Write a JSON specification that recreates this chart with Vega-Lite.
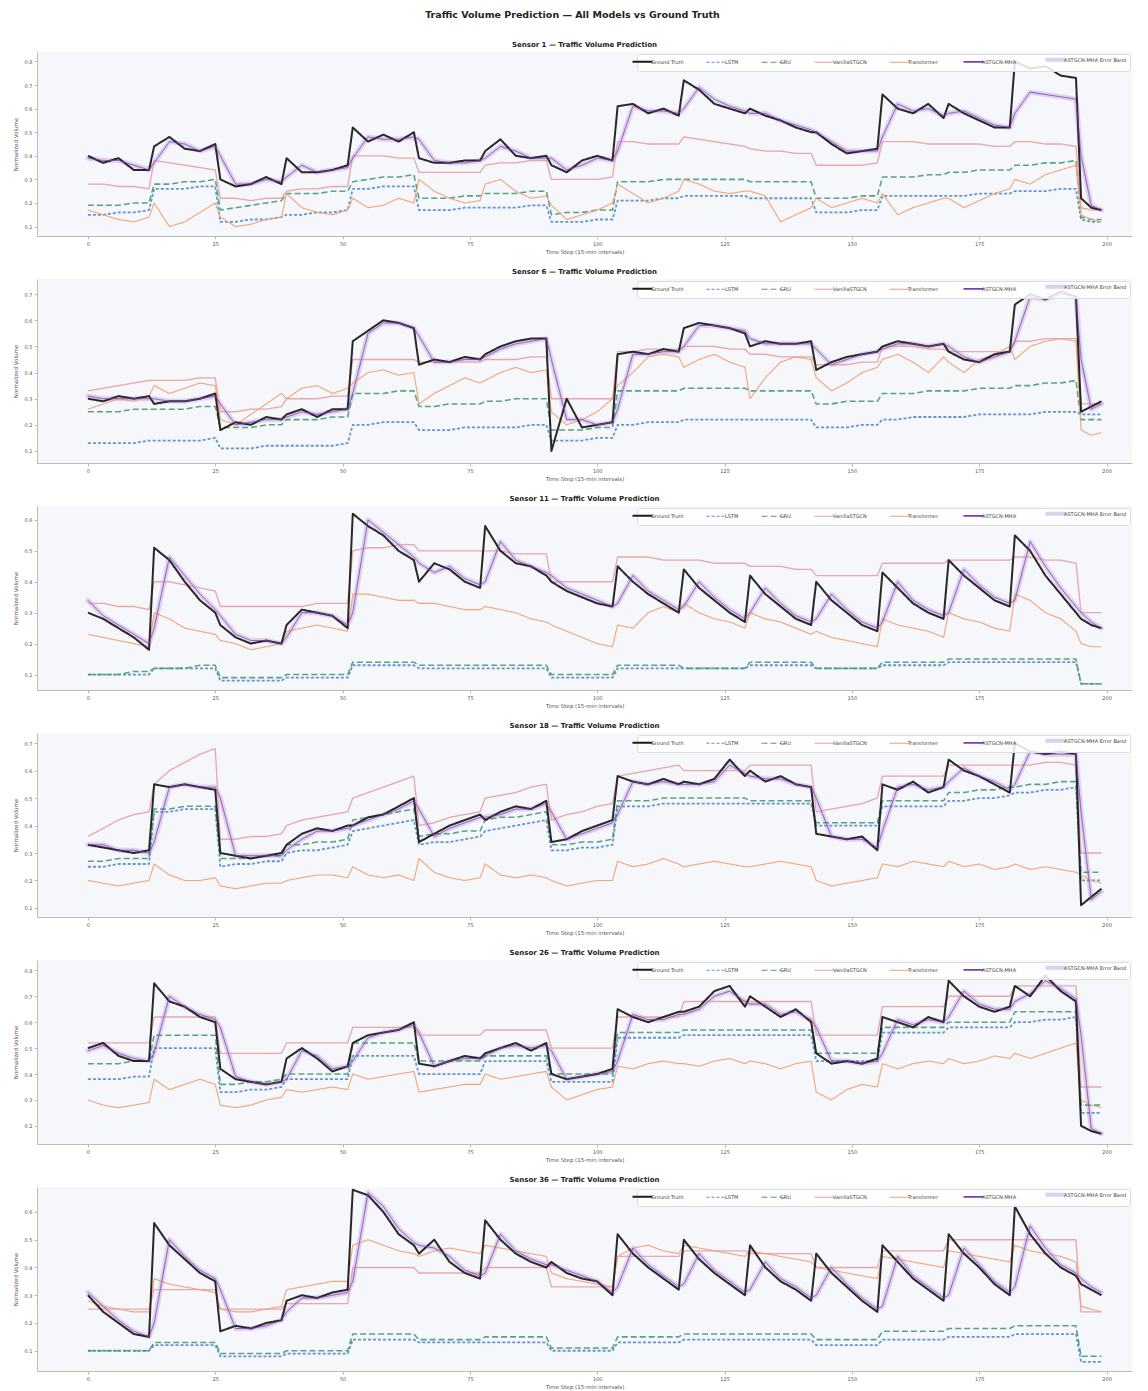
{
"$schema": "https://vega.github.io/schema/vega-lite/v6.json",
"background": "white",
"padding": {"left": 13, "top": 9, "right": 5, "bottom": 2},
"title": {"text": "Traffic Volume Prediction — All Models vs Ground Truth", "font": "DejaVu Sans", "fontSize": 9.5, "fontWeight": "bold", "color": "#222222", "anchor": "middle", "offset": 22},
"data": {"values": [
{"s":1,"t":0,"g":0.40,"a":0.39,"l":0.15,"r":0.19,"v":0.28,"f":0.17},
{"s":1,"t":3,"g":0.37,"a":0.38,"l":0.15,"r":0.19,"v":0.28,"f":0.15},
{"s":1,"t":6,"g":0.39,"a":0.38,"l":0.16,"r":0.19,"v":0.27,"f":0.13},
{"s":1,"t":9,"g":0.34,"a":0.36,"l":0.16,"r":0.20,"v":0.27,"f":0.12},
{"s":1,"t":12,"g":0.34,"a":0.34,"l":0.17,"r":0.20,"v":0.26,"f":0.14},
{"s":1,"t":13,"g":0.44,"a":0.37,"l":0.26,"r":0.28,"v":0.38,"f":0.20},
{"s":1,"t":16,"g":0.48,"a":0.46,"l":0.26,"r":0.28,"v":0.37,"f":0.10},
{"s":1,"t":19,"g":0.43,"a":0.45,"l":0.26,"r":0.29,"v":0.36,"f":0.12},
{"s":1,"t":22,"g":0.42,"a":0.42,"l":0.27,"r":0.29,"v":0.35,"f":0.16},
{"s":1,"t":25,"g":0.45,"a":0.44,"l":0.27,"r":0.30,"v":0.34,"f":0.20},
{"s":1,"t":26,"g":0.30,"a":0.40,"l":0.12,"r":0.17,"v":0.22,"f":0.14},
{"s":1,"t":29,"g":0.27,"a":0.28,"l":0.12,"r":0.18,"v":0.22,"f":0.10},
{"s":1,"t":32,"g":0.28,"a":0.28,"l":0.13,"r":0.19,"v":0.21,"f":0.11},
{"s":1,"t":35,"g":0.31,"a":0.30,"l":0.13,"r":0.20,"v":0.22,"f":0.13},
{"s":1,"t":38,"g":0.28,"a":0.29,"l":0.14,"r":0.21,"v":0.22,"f":0.14},
{"s":1,"t":39,"g":0.39,"a":0.31,"l":0.15,"r":0.24,"v":0.25,"f":0.24},
{"s":1,"t":42,"g":0.33,"a":0.36,"l":0.15,"r":0.24,"v":0.26,"f":0.18},
{"s":1,"t":45,"g":0.33,"a":0.33,"l":0.16,"r":0.24,"v":0.26,"f":0.16},
{"s":1,"t":48,"g":0.34,"a":0.34,"l":0.16,"r":0.25,"v":0.27,"f":0.15},
{"s":1,"t":51,"g":0.36,"a":0.35,"l":0.17,"r":0.25,"v":0.27,"f":0.17},
{"s":1,"t":52,"g":0.52,"a":0.39,"l":0.26,"r":0.29,"v":0.40,"f":0.22},
{"s":1,"t":55,"g":0.46,"a":0.48,"l":0.26,"r":0.30,"v":0.40,"f":0.18},
{"s":1,"t":58,"g":0.49,"a":0.47,"l":0.27,"r":0.31,"v":0.40,"f":0.19},
{"s":1,"t":61,"g":0.46,"a":0.47,"l":0.27,"r":0.31,"v":0.39,"f":0.22},
{"s":1,"t":64,"g":0.50,"a":0.48,"l":0.27,"r":0.32,"v":0.39,"f":0.20},
{"s":1,"t":65,"g":0.39,"a":0.47,"l":0.17,"r":0.22,"v":0.33,"f":0.30},
{"s":1,"t":68,"g":0.37,"a":0.38,"l":0.17,"r":0.22,"v":0.33,"f":0.25},
{"s":1,"t":71,"g":0.37,"a":0.37,"l":0.17,"r":0.22,"v":0.33,"f":0.22},
{"s":1,"t":74,"g":0.38,"a":0.37,"l":0.18,"r":0.23,"v":0.33,"f":0.20},
{"s":1,"t":77,"g":0.38,"a":0.38,"l":0.18,"r":0.23,"v":0.33,"f":0.21},
{"s":1,"t":78,"g":0.42,"a":0.39,"l":0.18,"r":0.24,"v":0.36,"f":0.28},
{"s":1,"t":81,"g":0.47,"a":0.44,"l":0.18,"r":0.24,"v":0.37,"f":0.30},
{"s":1,"t":84,"g":0.40,"a":0.42,"l":0.18,"r":0.24,"v":0.37,"f":0.25},
{"s":1,"t":87,"g":0.39,"a":0.39,"l":0.19,"r":0.25,"v":0.38,"f":0.22},
{"s":1,"t":90,"g":0.40,"a":0.39,"l":0.19,"r":0.25,"v":0.38,"f":0.23},
{"s":1,"t":91,"g":0.36,"a":0.39,"l":0.12,"r":0.15,"v":0.30,"f":0.19},
{"s":1,"t":94,"g":0.33,"a":0.34,"l":0.12,"r":0.16,"v":0.30,"f":0.13},
{"s":1,"t":97,"g":0.38,"a":0.36,"l":0.12,"r":0.16,"v":0.30,"f":0.15},
{"s":1,"t":100,"g":0.40,"a":0.39,"l":0.13,"r":0.17,"v":0.30,"f":0.17},
{"s":1,"t":103,"g":0.38,"a":0.38,"l":0.13,"r":0.17,"v":0.31,"f":0.20},
{"s":1,"t":104,"g":0.61,"a":0.42,"l":0.21,"r":0.29,"v":0.46,"f":0.28},
{"s":1,"t":107,"g":0.62,"a":0.61,"l":0.21,"r":0.29,"v":0.46,"f":0.24},
{"s":1,"t":110,"g":0.58,"a":0.59,"l":0.21,"r":0.29,"v":0.45,"f":0.20},
{"s":1,"t":113,"g":0.60,"a":0.59,"l":0.22,"r":0.30,"v":0.45,"f":0.22},
{"s":1,"t":116,"g":0.57,"a":0.58,"l":0.22,"r":0.30,"v":0.45,"f":0.25},
{"s":1,"t":117,"g":0.72,"a":0.60,"l":0.23,"r":0.30,"v":0.48,"f":0.30},
{"s":1,"t":120,"g":0.68,"a":0.69,"l":0.23,"r":0.30,"v":0.47,"f":0.28},
{"s":1,"t":123,"g":0.62,"a":0.64,"l":0.23,"r":0.30,"v":0.46,"f":0.25},
{"s":1,"t":126,"g":0.60,"a":0.61,"l":0.23,"r":0.30,"v":0.45,"f":0.24},
{"s":1,"t":129,"g":0.58,"a":0.59,"l":0.23,"r":0.30,"v":0.44,"f":0.25},
{"s":1,"t":130,"g":0.60,"a":0.58,"l":0.22,"r":0.29,"v":0.43,"f":0.25},
{"s":1,"t":133,"g":0.57,"a":0.58,"l":0.22,"r":0.29,"v":0.42,"f":0.23},
{"s":1,"t":136,"g":0.55,"a":0.55,"l":0.22,"r":0.29,"v":0.42,"f":0.12},
{"s":1,"t":139,"g":0.52,"a":0.53,"l":0.22,"r":0.29,"v":0.41,"f":0.15},
{"s":1,"t":142,"g":0.50,"a":0.51,"l":0.22,"r":0.29,"v":0.41,"f":0.18},
{"s":1,"t":143,"g":0.50,"a":0.50,"l":0.16,"r":0.22,"v":0.36,"f":0.22},
{"s":1,"t":146,"g":0.45,"a":0.46,"l":0.16,"r":0.22,"v":0.36,"f":0.18},
{"s":1,"t":149,"g":0.41,"a":0.42,"l":0.16,"r":0.22,"v":0.36,"f":0.20},
{"s":1,"t":152,"g":0.42,"a":0.42,"l":0.17,"r":0.23,"v":0.36,"f":0.22},
{"s":1,"t":155,"g":0.43,"a":0.42,"l":0.17,"r":0.23,"v":0.37,"f":0.20},
{"s":1,"t":156,"g":0.66,"a":0.48,"l":0.23,"r":0.31,"v":0.46,"f":0.24},
{"s":1,"t":159,"g":0.60,"a":0.62,"l":0.23,"r":0.31,"v":0.46,"f":0.15},
{"s":1,"t":162,"g":0.58,"a":0.59,"l":0.23,"r":0.31,"v":0.46,"f":0.18},
{"s":1,"t":165,"g":0.62,"a":0.60,"l":0.23,"r":0.32,"v":0.45,"f":0.20},
{"s":1,"t":168,"g":0.56,"a":0.57,"l":0.23,"r":0.32,"v":0.45,"f":0.22},
{"s":1,"t":169,"g":0.62,"a":0.58,"l":0.23,"r":0.33,"v":0.45,"f":0.22},
{"s":1,"t":172,"g":0.58,"a":0.59,"l":0.23,"r":0.33,"v":0.45,"f":0.18},
{"s":1,"t":175,"g":0.55,"a":0.56,"l":0.24,"r":0.34,"v":0.45,"f":0.21},
{"s":1,"t":178,"g":0.52,"a":0.53,"l":0.24,"r":0.34,"v":0.44,"f":0.24},
{"s":1,"t":181,"g":0.52,"a":0.52,"l":0.24,"r":0.34,"v":0.44,"f":0.26},
{"s":1,"t":182,"g":0.80,"a":0.58,"l":0.25,"r":0.36,"v":0.46,"f":0.30},
{"s":1,"t":185,"g":0.77,"a":0.67,"l":0.25,"r":0.36,"v":0.46,"f":0.28},
{"s":1,"t":188,"g":0.78,"a":0.66,"l":0.25,"r":0.37,"v":0.45,"f":0.32},
{"s":1,"t":191,"g":0.74,"a":0.65,"l":0.26,"r":0.37,"v":0.45,"f":0.34},
{"s":1,"t":194,"g":0.73,"a":0.64,"l":0.26,"r":0.38,"v":0.44,"f":0.36},
{"s":1,"t":195,"g":0.22,"a":0.40,"l":0.13,"r":0.14,"v":0.18,"f":0.15},
{"s":1,"t":197,"g":0.18,"a":0.19,"l":0.12,"r":0.13,"v":0.17,"f":0.13},
{"s":1,"t":199,"g":0.17,"a":0.17,"l":0.12,"r":0.13,"v":0.17,"f":0.12},

{"s":2,"t":0,"g":0.30,"a":0.31,"l":0.13,"r":0.25,"v":0.33,"f":0.26},
{"s":2,"t":3,"g":0.29,"a":0.30,"l":0.13,"r":0.25,"v":0.34,"f":0.28},
{"s":2,"t":6,"g":0.31,"a":0.30,"l":0.13,"r":0.25,"v":0.35,"f":0.30},
{"s":2,"t":9,"g":0.30,"a":0.30,"l":0.13,"r":0.26,"v":0.36,"f":0.29},
{"s":2,"t":12,"g":0.31,"a":0.30,"l":0.14,"r":0.26,"v":0.37,"f":0.31},
{"s":2,"t":13,"g":0.28,"a":0.30,"l":0.14,"r":0.26,"v":0.37,"f":0.35},
{"s":2,"t":16,"g":0.29,"a":0.29,"l":0.14,"r":0.26,"v":0.37,"f":0.32},
{"s":2,"t":19,"g":0.29,"a":0.29,"l":0.14,"r":0.26,"v":0.37,"f":0.34},
{"s":2,"t":22,"g":0.30,"a":0.30,"l":0.14,"r":0.27,"v":0.38,"f":0.36},
{"s":2,"t":25,"g":0.32,"a":0.31,"l":0.15,"r":0.27,"v":0.38,"f":0.35},
{"s":2,"t":26,"g":0.18,"a":0.28,"l":0.11,"r":0.19,"v":0.25,"f":0.22},
{"s":2,"t":29,"g":0.21,"a":0.20,"l":0.11,"r":0.19,"v":0.25,"f":0.20},
{"s":2,"t":32,"g":0.20,"a":0.21,"l":0.11,"r":0.19,"v":0.26,"f":0.24},
{"s":2,"t":35,"g":0.23,"a":0.22,"l":0.12,"r":0.20,"v":0.26,"f":0.28},
{"s":2,"t":38,"g":0.22,"a":0.22,"l":0.12,"r":0.20,"v":0.27,"f":0.32},
{"s":2,"t":39,"g":0.24,"a":0.23,"l":0.12,"r":0.22,"v":0.30,"f":0.30},
{"s":2,"t":42,"g":0.26,"a":0.25,"l":0.12,"r":0.22,"v":0.30,"f":0.34},
{"s":2,"t":45,"g":0.23,"a":0.24,"l":0.12,"r":0.22,"v":0.30,"f":0.35},
{"s":2,"t":48,"g":0.26,"a":0.25,"l":0.12,"r":0.23,"v":0.31,"f":0.32},
{"s":2,"t":51,"g":0.26,"a":0.26,"l":0.13,"r":0.23,"v":0.31,"f":0.34},
{"s":2,"t":52,"g":0.52,"a":0.32,"l":0.20,"r":0.32,"v":0.45,"f":0.36},
{"s":2,"t":55,"g":0.56,"a":0.55,"l":0.20,"r":0.32,"v":0.45,"f":0.40},
{"s":2,"t":58,"g":0.60,"a":0.59,"l":0.21,"r":0.32,"v":0.45,"f":0.41},
{"s":2,"t":61,"g":0.59,"a":0.59,"l":0.21,"r":0.33,"v":0.45,"f":0.39},
{"s":2,"t":64,"g":0.57,"a":0.57,"l":0.21,"r":0.33,"v":0.45,"f":0.40},
{"s":2,"t":65,"g":0.43,"a":0.54,"l":0.18,"r":0.27,"v":0.44,"f":0.28},
{"s":2,"t":68,"g":0.45,"a":0.44,"l":0.18,"r":0.27,"v":0.44,"f":0.32},
{"s":2,"t":71,"g":0.44,"a":0.44,"l":0.18,"r":0.28,"v":0.44,"f":0.35},
{"s":2,"t":74,"g":0.46,"a":0.45,"l":0.19,"r":0.28,"v":0.44,"f":0.38},
{"s":2,"t":77,"g":0.45,"a":0.45,"l":0.19,"r":0.28,"v":0.44,"f":0.36},
{"s":2,"t":78,"g":0.47,"a":0.46,"l":0.19,"r":0.29,"v":0.45,"f":0.37},
{"s":2,"t":81,"g":0.50,"a":0.49,"l":0.19,"r":0.29,"v":0.45,"f":0.40},
{"s":2,"t":84,"g":0.52,"a":0.51,"l":0.19,"r":0.30,"v":0.45,"f":0.42},
{"s":2,"t":87,"g":0.53,"a":0.52,"l":0.20,"r":0.30,"v":0.46,"f":0.40},
{"s":2,"t":90,"g":0.53,"a":0.53,"l":0.20,"r":0.30,"v":0.46,"f":0.41},
{"s":2,"t":91,"g":0.10,"a":0.45,"l":0.14,"r":0.18,"v":0.30,"f":0.25},
{"s":2,"t":94,"g":0.30,"a":0.22,"l":0.14,"r":0.18,"v":0.30,"f":0.20},
{"s":2,"t":97,"g":0.19,"a":0.22,"l":0.14,"r":0.18,"v":0.30,"f":0.22},
{"s":2,"t":100,"g":0.20,"a":0.20,"l":0.15,"r":0.19,"v":0.30,"f":0.25},
{"s":2,"t":103,"g":0.21,"a":0.21,"l":0.15,"r":0.19,"v":0.30,"f":0.30},
{"s":2,"t":104,"g":0.47,"a":0.26,"l":0.20,"r":0.33,"v":0.48,"f":0.35},
{"s":2,"t":107,"g":0.48,"a":0.47,"l":0.20,"r":0.33,"v":0.48,"f":0.40},
{"s":2,"t":110,"g":0.47,"a":0.47,"l":0.21,"r":0.33,"v":0.49,"f":0.46},
{"s":2,"t":113,"g":0.49,"a":0.48,"l":0.21,"r":0.33,"v":0.49,"f":0.47},
{"s":2,"t":116,"g":0.48,"a":0.48,"l":0.21,"r":0.33,"v":0.49,"f":0.46},
{"s":2,"t":117,"g":0.57,"a":0.50,"l":0.22,"r":0.34,"v":0.50,"f":0.42},
{"s":2,"t":120,"g":0.59,"a":0.58,"l":0.22,"r":0.34,"v":0.50,"f":0.45},
{"s":2,"t":123,"g":0.58,"a":0.58,"l":0.22,"r":0.34,"v":0.50,"f":0.47},
{"s":2,"t":126,"g":0.57,"a":0.57,"l":0.22,"r":0.34,"v":0.49,"f":0.44},
{"s":2,"t":129,"g":0.55,"a":0.56,"l":0.22,"r":0.34,"v":0.49,"f":0.42},
{"s":2,"t":130,"g":0.50,"a":0.53,"l":0.22,"r":0.33,"v":0.47,"f":0.30},
{"s":2,"t":133,"g":0.52,"a":0.51,"l":0.22,"r":0.33,"v":0.47,"f":0.38},
{"s":2,"t":136,"g":0.51,"a":0.51,"l":0.22,"r":0.33,"v":0.46,"f":0.44},
{"s":2,"t":139,"g":0.51,"a":0.51,"l":0.22,"r":0.33,"v":0.46,"f":0.46},
{"s":2,"t":142,"g":0.52,"a":0.51,"l":0.22,"r":0.33,"v":0.46,"f":0.45},
{"s":2,"t":143,"g":0.41,"a":0.49,"l":0.19,"r":0.28,"v":0.43,"f":0.38},
{"s":2,"t":146,"g":0.44,"a":0.43,"l":0.19,"r":0.28,"v":0.43,"f":0.33},
{"s":2,"t":149,"g":0.46,"a":0.45,"l":0.19,"r":0.29,"v":0.43,"f":0.36},
{"s":2,"t":152,"g":0.47,"a":0.47,"l":0.20,"r":0.29,"v":0.44,"f":0.40},
{"s":2,"t":155,"g":0.48,"a":0.48,"l":0.20,"r":0.29,"v":0.44,"f":0.42},
{"s":2,"t":156,"g":0.50,"a":0.49,"l":0.22,"r":0.32,"v":0.50,"f":0.45},
{"s":2,"t":159,"g":0.52,"a":0.51,"l":0.22,"r":0.32,"v":0.50,"f":0.47},
{"s":2,"t":162,"g":0.51,"a":0.51,"l":0.23,"r":0.32,"v":0.50,"f":0.44},
{"s":2,"t":165,"g":0.50,"a":0.50,"l":0.23,"r":0.33,"v":0.49,"f":0.40},
{"s":2,"t":168,"g":0.51,"a":0.51,"l":0.23,"r":0.33,"v":0.49,"f":0.46},
{"s":2,"t":169,"g":0.48,"a":0.50,"l":0.23,"r":0.33,"v":0.48,"f":0.44},
{"s":2,"t":172,"g":0.45,"a":0.46,"l":0.23,"r":0.33,"v":0.48,"f":0.40},
{"s":2,"t":175,"g":0.44,"a":0.44,"l":0.24,"r":0.34,"v":0.48,"f":0.45},
{"s":2,"t":178,"g":0.47,"a":0.46,"l":0.24,"r":0.34,"v":0.48,"f":0.47},
{"s":2,"t":181,"g":0.48,"a":0.48,"l":0.24,"r":0.34,"v":0.48,"f":0.50},
{"s":2,"t":182,"g":0.66,"a":0.52,"l":0.24,"r":0.35,"v":0.52,"f":0.45},
{"s":2,"t":185,"g":0.70,"a":0.69,"l":0.24,"r":0.35,"v":0.52,"f":0.50},
{"s":2,"t":188,"g":0.68,"a":0.68,"l":0.25,"r":0.36,"v":0.53,"f":0.52},
{"s":2,"t":191,"g":0.71,"a":0.70,"l":0.25,"r":0.36,"v":0.53,"f":0.53},
{"s":2,"t":194,"g":0.69,"a":0.69,"l":0.25,"r":0.37,"v":0.53,"f":0.52},
{"s":2,"t":195,"g":0.25,"a":0.45,"l":0.24,"r":0.22,"v":0.28,"f":0.18},
{"s":2,"t":197,"g":0.27,"a":0.26,"l":0.24,"r":0.22,"v":0.28,"f":0.16},
{"s":2,"t":199,"g":0.29,"a":0.28,"l":0.24,"r":0.22,"v":0.28,"f":0.17},

{"s":3,"t":0,"g":0.30,"a":0.34,"l":0.10,"r":0.10,"v":0.33,"f":0.23},
{"s":3,"t":3,"g":0.28,"a":0.29,"l":0.10,"r":0.10,"v":0.33,"f":0.22},
{"s":3,"t":6,"g":0.25,"a":0.26,"l":0.10,"r":0.10,"v":0.32,"f":0.21},
{"s":3,"t":9,"g":0.22,"a":0.23,"l":0.10,"r":0.11,"v":0.32,"f":0.20},
{"s":3,"t":12,"g":0.18,"a":0.20,"l":0.10,"r":0.11,"v":0.31,"f":0.19},
{"s":3,"t":13,"g":0.51,"a":0.25,"l":0.12,"r":0.12,"v":0.40,"f":0.30},
{"s":3,"t":16,"g":0.47,"a":0.48,"l":0.12,"r":0.12,"v":0.40,"f":0.28},
{"s":3,"t":19,"g":0.40,"a":0.42,"l":0.12,"r":0.12,"v":0.39,"f":0.25},
{"s":3,"t":22,"g":0.34,"a":0.36,"l":0.12,"r":0.13,"v":0.38,"f":0.24},
{"s":3,"t":25,"g":0.30,"a":0.31,"l":0.12,"r":0.13,"v":0.37,"f":0.23},
{"s":3,"t":26,"g":0.26,"a":0.29,"l":0.08,"r":0.09,"v":0.32,"f":0.21},
{"s":3,"t":29,"g":0.22,"a":0.23,"l":0.08,"r":0.09,"v":0.32,"f":0.20},
{"s":3,"t":32,"g":0.20,"a":0.21,"l":0.08,"r":0.09,"v":0.32,"f":0.18},
{"s":3,"t":35,"g":0.21,"a":0.21,"l":0.08,"r":0.09,"v":0.32,"f":0.19},
{"s":3,"t":38,"g":0.20,"a":0.20,"l":0.08,"r":0.09,"v":0.32,"f":0.20},
{"s":3,"t":39,"g":0.26,"a":0.22,"l":0.09,"r":0.10,"v":0.32,"f":0.24},
{"s":3,"t":42,"g":0.31,"a":0.30,"l":0.09,"r":0.10,"v":0.32,"f":0.25},
{"s":3,"t":45,"g":0.30,"a":0.30,"l":0.09,"r":0.10,"v":0.33,"f":0.26},
{"s":3,"t":48,"g":0.29,"a":0.29,"l":0.09,"r":0.10,"v":0.33,"f":0.25},
{"s":3,"t":51,"g":0.25,"a":0.26,"l":0.09,"r":0.10,"v":0.33,"f":0.24},
{"s":3,"t":52,"g":0.62,"a":0.30,"l":0.13,"r":0.14,"v":0.50,"f":0.36},
{"s":3,"t":55,"g":0.58,"a":0.60,"l":0.13,"r":0.14,"v":0.51,"f":0.36},
{"s":3,"t":58,"g":0.55,"a":0.56,"l":0.13,"r":0.14,"v":0.51,"f":0.35},
{"s":3,"t":61,"g":0.50,"a":0.52,"l":0.13,"r":0.14,"v":0.52,"f":0.34},
{"s":3,"t":64,"g":0.47,"a":0.48,"l":0.13,"r":0.14,"v":0.52,"f":0.34},
{"s":3,"t":65,"g":0.40,"a":0.46,"l":0.12,"r":0.13,"v":0.50,"f":0.33},
{"s":3,"t":68,"g":0.46,"a":0.43,"l":0.12,"r":0.13,"v":0.50,"f":0.33},
{"s":3,"t":71,"g":0.44,"a":0.45,"l":0.12,"r":0.13,"v":0.50,"f":0.32},
{"s":3,"t":74,"g":0.40,"a":0.41,"l":0.12,"r":0.13,"v":0.50,"f":0.31},
{"s":3,"t":77,"g":0.38,"a":0.39,"l":0.12,"r":0.13,"v":0.50,"f":0.31},
{"s":3,"t":78,"g":0.58,"a":0.40,"l":0.12,"r":0.13,"v":0.50,"f":0.32},
{"s":3,"t":81,"g":0.50,"a":0.53,"l":0.12,"r":0.13,"v":0.50,"f":0.31},
{"s":3,"t":84,"g":0.46,"a":0.47,"l":0.12,"r":0.13,"v":0.49,"f":0.30},
{"s":3,"t":87,"g":0.45,"a":0.45,"l":0.12,"r":0.13,"v":0.49,"f":0.28},
{"s":3,"t":90,"g":0.42,"a":0.43,"l":0.12,"r":0.13,"v":0.49,"f":0.27},
{"s":3,"t":91,"g":0.40,"a":0.42,"l":0.09,"r":0.10,"v":0.40,"f":0.26},
{"s":3,"t":94,"g":0.37,"a":0.38,"l":0.09,"r":0.10,"v":0.40,"f":0.24},
{"s":3,"t":97,"g":0.35,"a":0.36,"l":0.09,"r":0.10,"v":0.40,"f":0.22},
{"s":3,"t":100,"g":0.33,"a":0.34,"l":0.09,"r":0.10,"v":0.40,"f":0.20},
{"s":3,"t":103,"g":0.32,"a":0.32,"l":0.09,"r":0.10,"v":0.40,"f":0.19},
{"s":3,"t":104,"g":0.45,"a":0.33,"l":0.12,"r":0.13,"v":0.48,"f":0.26},
{"s":3,"t":107,"g":0.40,"a":0.42,"l":0.12,"r":0.13,"v":0.48,"f":0.25},
{"s":3,"t":110,"g":0.36,"a":0.37,"l":0.12,"r":0.13,"v":0.48,"f":0.30},
{"s":3,"t":113,"g":0.33,"a":0.34,"l":0.12,"r":0.13,"v":0.47,"f":0.32},
{"s":3,"t":116,"g":0.30,"a":0.31,"l":0.12,"r":0.13,"v":0.47,"f":0.30},
{"s":3,"t":117,"g":0.44,"a":0.32,"l":0.12,"r":0.12,"v":0.47,"f":0.33},
{"s":3,"t":120,"g":0.38,"a":0.40,"l":0.12,"r":0.12,"v":0.47,"f":0.30},
{"s":3,"t":123,"g":0.34,"a":0.35,"l":0.12,"r":0.12,"v":0.46,"f":0.28},
{"s":3,"t":126,"g":0.30,"a":0.31,"l":0.12,"r":0.12,"v":0.46,"f":0.27},
{"s":3,"t":129,"g":0.27,"a":0.28,"l":0.12,"r":0.12,"v":0.46,"f":0.25},
{"s":3,"t":130,"g":0.42,"a":0.30,"l":0.13,"r":0.14,"v":0.45,"f":0.30},
{"s":3,"t":133,"g":0.36,"a":0.38,"l":0.13,"r":0.14,"v":0.45,"f":0.28},
{"s":3,"t":136,"g":0.32,"a":0.33,"l":0.13,"r":0.14,"v":0.45,"f":0.27},
{"s":3,"t":139,"g":0.28,"a":0.29,"l":0.13,"r":0.14,"v":0.44,"f":0.25},
{"s":3,"t":142,"g":0.26,"a":0.27,"l":0.13,"r":0.14,"v":0.44,"f":0.23},
{"s":3,"t":143,"g":0.40,"a":0.28,"l":0.12,"r":0.12,"v":0.42,"f":0.24},
{"s":3,"t":146,"g":0.34,"a":0.36,"l":0.12,"r":0.12,"v":0.42,"f":0.22},
{"s":3,"t":149,"g":0.30,"a":0.31,"l":0.12,"r":0.12,"v":0.42,"f":0.21},
{"s":3,"t":152,"g":0.26,"a":0.27,"l":0.12,"r":0.12,"v":0.42,"f":0.20},
{"s":3,"t":155,"g":0.24,"a":0.25,"l":0.12,"r":0.12,"v":0.42,"f":0.19},
{"s":3,"t":156,"g":0.43,"a":0.27,"l":0.13,"r":0.14,"v":0.46,"f":0.28},
{"s":3,"t":159,"g":0.38,"a":0.40,"l":0.13,"r":0.14,"v":0.46,"f":0.26},
{"s":3,"t":162,"g":0.33,"a":0.34,"l":0.13,"r":0.14,"v":0.46,"f":0.25},
{"s":3,"t":165,"g":0.30,"a":0.31,"l":0.13,"r":0.14,"v":0.46,"f":0.24},
{"s":3,"t":168,"g":0.28,"a":0.29,"l":0.13,"r":0.14,"v":0.46,"f":0.22},
{"s":3,"t":169,"g":0.47,"a":0.30,"l":0.14,"r":0.15,"v":0.47,"f":0.30},
{"s":3,"t":172,"g":0.42,"a":0.44,"l":0.14,"r":0.15,"v":0.47,"f":0.28},
{"s":3,"t":175,"g":0.38,"a":0.39,"l":0.14,"r":0.15,"v":0.47,"f":0.27},
{"s":3,"t":178,"g":0.34,"a":0.35,"l":0.14,"r":0.15,"v":0.47,"f":0.25},
{"s":3,"t":181,"g":0.32,"a":0.33,"l":0.14,"r":0.15,"v":0.47,"f":0.24},
{"s":3,"t":182,"g":0.55,"a":0.34,"l":0.14,"r":0.15,"v":0.48,"f":0.36},
{"s":3,"t":185,"g":0.50,"a":0.53,"l":0.14,"r":0.15,"v":0.48,"f":0.34},
{"s":3,"t":188,"g":0.42,"a":0.45,"l":0.14,"r":0.15,"v":0.47,"f":0.30},
{"s":3,"t":191,"g":0.36,"a":0.38,"l":0.14,"r":0.15,"v":0.47,"f":0.28},
{"s":3,"t":194,"g":0.30,"a":0.32,"l":0.14,"r":0.15,"v":0.46,"f":0.24},
{"s":3,"t":195,"g":0.28,"a":0.30,"l":0.07,"r":0.07,"v":0.30,"f":0.20},
{"s":3,"t":197,"g":0.26,"a":0.27,"l":0.07,"r":0.07,"v":0.30,"f":0.19},
{"s":3,"t":199,"g":0.25,"a":0.25,"l":0.07,"r":0.07,"v":0.30,"f":0.19},

{"s":4,"t":0,"g":0.33,"a":0.33,"l":0.25,"r":0.27,"v":0.36,"f":0.20},
{"s":4,"t":3,"g":0.32,"a":0.33,"l":0.25,"r":0.27,"v":0.39,"f":0.19},
{"s":4,"t":6,"g":0.31,"a":0.31,"l":0.26,"r":0.28,"v":0.42,"f":0.18},
{"s":4,"t":9,"g":0.30,"a":0.31,"l":0.26,"r":0.28,"v":0.44,"f":0.19},
{"s":4,"t":12,"g":0.31,"a":0.30,"l":0.26,"r":0.28,"v":0.45,"f":0.20},
{"s":4,"t":13,"g":0.55,"a":0.34,"l":0.45,"r":0.46,"v":0.55,"f":0.26},
{"s":4,"t":16,"g":0.54,"a":0.54,"l":0.45,"r":0.46,"v":0.60,"f":0.22},
{"s":4,"t":19,"g":0.55,"a":0.55,"l":0.46,"r":0.47,"v":0.63,"f":0.20},
{"s":4,"t":22,"g":0.54,"a":0.54,"l":0.46,"r":0.47,"v":0.66,"f":0.20},
{"s":4,"t":25,"g":0.53,"a":0.54,"l":0.46,"r":0.47,"v":0.68,"f":0.21},
{"s":4,"t":26,"g":0.30,"a":0.50,"l":0.25,"r":0.28,"v":0.35,"f":0.18},
{"s":4,"t":29,"g":0.29,"a":0.29,"l":0.26,"r":0.28,"v":0.35,"f":0.17},
{"s":4,"t":32,"g":0.28,"a":0.29,"l":0.26,"r":0.28,"v":0.36,"f":0.18},
{"s":4,"t":35,"g":0.29,"a":0.29,"l":0.27,"r":0.29,"v":0.36,"f":0.19},
{"s":4,"t":38,"g":0.30,"a":0.29,"l":0.27,"r":0.29,"v":0.37,"f":0.19},
{"s":4,"t":39,"g":0.33,"a":0.31,"l":0.30,"r":0.33,"v":0.40,"f":0.20},
{"s":4,"t":42,"g":0.37,"a":0.35,"l":0.31,"r":0.33,"v":0.42,"f":0.21},
{"s":4,"t":45,"g":0.39,"a":0.38,"l":0.31,"r":0.34,"v":0.43,"f":0.22},
{"s":4,"t":48,"g":0.38,"a":0.38,"l":0.32,"r":0.34,"v":0.44,"f":0.22},
{"s":4,"t":51,"g":0.40,"a":0.39,"l":0.33,"r":0.35,"v":0.45,"f":0.21},
{"s":4,"t":52,"g":0.40,"a":0.40,"l":0.38,"r":0.42,"v":0.50,"f":0.25},
{"s":4,"t":55,"g":0.43,"a":0.42,"l":0.39,"r":0.43,"v":0.52,"f":0.22},
{"s":4,"t":58,"g":0.44,"a":0.44,"l":0.40,"r":0.44,"v":0.54,"f":0.21},
{"s":4,"t":61,"g":0.47,"a":0.46,"l":0.41,"r":0.45,"v":0.56,"f":0.22},
{"s":4,"t":64,"g":0.50,"a":0.49,"l":0.42,"r":0.46,"v":0.58,"f":0.20},
{"s":4,"t":65,"g":0.34,"a":0.46,"l":0.33,"r":0.36,"v":0.40,"f":0.28},
{"s":4,"t":68,"g":0.37,"a":0.36,"l":0.34,"r":0.37,"v":0.41,"f":0.23},
{"s":4,"t":71,"g":0.40,"a":0.39,"l":0.34,"r":0.37,"v":0.43,"f":0.21},
{"s":4,"t":74,"g":0.42,"a":0.41,"l":0.35,"r":0.38,"v":0.44,"f":0.20},
{"s":4,"t":77,"g":0.44,"a":0.43,"l":0.36,"r":0.38,"v":0.45,"f":0.21},
{"s":4,"t":78,"g":0.42,"a":0.43,"l":0.38,"r":0.42,"v":0.50,"f":0.26},
{"s":4,"t":81,"g":0.45,"a":0.44,"l":0.39,"r":0.43,"v":0.51,"f":0.22},
{"s":4,"t":84,"g":0.47,"a":0.46,"l":0.40,"r":0.43,"v":0.52,"f":0.21},
{"s":4,"t":87,"g":0.46,"a":0.46,"l":0.41,"r":0.44,"v":0.54,"f":0.22},
{"s":4,"t":90,"g":0.49,"a":0.48,"l":0.42,"r":0.45,"v":0.55,"f":0.21},
{"s":4,"t":91,"g":0.34,"a":0.45,"l":0.31,"r":0.33,"v":0.42,"f":0.20},
{"s":4,"t":94,"g":0.35,"a":0.35,"l":0.31,"r":0.33,"v":0.44,"f":0.18},
{"s":4,"t":97,"g":0.38,"a":0.37,"l":0.32,"r":0.34,"v":0.45,"f":0.19},
{"s":4,"t":100,"g":0.40,"a":0.39,"l":0.32,"r":0.34,"v":0.47,"f":0.20},
{"s":4,"t":103,"g":0.42,"a":0.41,"l":0.33,"r":0.35,"v":0.48,"f":0.20},
{"s":4,"t":104,"g":0.58,"a":0.44,"l":0.47,"r":0.49,"v":0.58,"f":0.27},
{"s":4,"t":107,"g":0.56,"a":0.56,"l":0.47,"r":0.49,"v":0.59,"f":0.25},
{"s":4,"t":110,"g":0.55,"a":0.55,"l":0.47,"r":0.49,"v":0.60,"f":0.26},
{"s":4,"t":113,"g":0.57,"a":0.56,"l":0.48,"r":0.50,"v":0.61,"f":0.28},
{"s":4,"t":116,"g":0.55,"a":0.55,"l":0.48,"r":0.50,"v":0.62,"f":0.26},
{"s":4,"t":117,"g":0.56,"a":0.55,"l":0.48,"r":0.50,"v":0.60,"f":0.25},
{"s":4,"t":120,"g":0.55,"a":0.55,"l":0.48,"r":0.50,"v":0.60,"f":0.26},
{"s":4,"t":123,"g":0.57,"a":0.56,"l":0.48,"r":0.50,"v":0.60,"f":0.27},
{"s":4,"t":126,"g":0.64,"a":0.62,"l":0.48,"r":0.50,"v":0.60,"f":0.26},
{"s":4,"t":129,"g":0.58,"a":0.59,"l":0.48,"r":0.50,"v":0.60,"f":0.25},
{"s":4,"t":130,"g":0.60,"a":0.58,"l":0.48,"r":0.49,"v":0.62,"f":0.25},
{"s":4,"t":133,"g":0.56,"a":0.57,"l":0.48,"r":0.49,"v":0.62,"f":0.26},
{"s":4,"t":136,"g":0.58,"a":0.57,"l":0.48,"r":0.49,"v":0.62,"f":0.27},
{"s":4,"t":139,"g":0.55,"a":0.55,"l":0.48,"r":0.49,"v":0.62,"f":0.26},
{"s":4,"t":142,"g":0.54,"a":0.54,"l":0.48,"r":0.49,"v":0.62,"f":0.25},
{"s":4,"t":143,"g":0.37,"a":0.50,"l":0.40,"r":0.41,"v":0.45,"f":0.20},
{"s":4,"t":146,"g":0.36,"a":0.36,"l":0.40,"r":0.41,"v":0.46,"f":0.18},
{"s":4,"t":149,"g":0.35,"a":0.35,"l":0.40,"r":0.41,"v":0.47,"f":0.19},
{"s":4,"t":152,"g":0.36,"a":0.35,"l":0.40,"r":0.41,"v":0.48,"f":0.20},
{"s":4,"t":155,"g":0.31,"a":0.32,"l":0.40,"r":0.41,"v":0.50,"f":0.21},
{"s":4,"t":156,"g":0.55,"a":0.38,"l":0.47,"r":0.49,"v":0.58,"f":0.26},
{"s":4,"t":159,"g":0.53,"a":0.54,"l":0.47,"r":0.49,"v":0.58,"f":0.25},
{"s":4,"t":162,"g":0.56,"a":0.55,"l":0.47,"r":0.49,"v":0.58,"f":0.27},
{"s":4,"t":165,"g":0.52,"a":0.53,"l":0.47,"r":0.49,"v":0.58,"f":0.26},
{"s":4,"t":168,"g":0.54,"a":0.54,"l":0.47,"r":0.49,"v":0.58,"f":0.25},
{"s":4,"t":169,"g":0.64,"a":0.56,"l":0.49,"r":0.52,"v":0.62,"f":0.27},
{"s":4,"t":172,"g":0.60,"a":0.61,"l":0.49,"r":0.52,"v":0.62,"f":0.25},
{"s":4,"t":175,"g":0.58,"a":0.58,"l":0.50,"r":0.53,"v":0.62,"f":0.26},
{"s":4,"t":178,"g":0.55,"a":0.56,"l":0.50,"r":0.53,"v":0.62,"f":0.24},
{"s":4,"t":181,"g":0.52,"a":0.53,"l":0.51,"r":0.54,"v":0.62,"f":0.25},
{"s":4,"t":182,"g":0.70,"a":0.55,"l":0.52,"r":0.54,"v":0.62,"f":0.26},
{"s":4,"t":185,"g":0.67,"a":0.67,"l":0.52,"r":0.55,"v":0.62,"f":0.24},
{"s":4,"t":188,"g":0.66,"a":0.66,"l":0.53,"r":0.55,"v":0.63,"f":0.25},
{"s":4,"t":191,"g":0.67,"a":0.66,"l":0.53,"r":0.56,"v":0.63,"f":0.24},
{"s":4,"t":194,"g":0.66,"a":0.66,"l":0.54,"r":0.56,"v":0.62,"f":0.23},
{"s":4,"t":195,"g":0.11,"a":0.45,"l":0.20,"r":0.23,"v":0.30,"f":0.22},
{"s":4,"t":197,"g":0.14,"a":0.13,"l":0.20,"r":0.23,"v":0.30,"f":0.20},
{"s":4,"t":199,"g":0.17,"a":0.16,"l":0.20,"r":0.23,"v":0.30,"f":0.19},

{"s":5,"t":0,"g":0.50,"a":0.49,"l":0.38,"r":0.44,"v":0.52,"f":0.30},
{"s":5,"t":3,"g":0.52,"a":0.51,"l":0.38,"r":0.44,"v":0.52,"f":0.28},
{"s":5,"t":6,"g":0.47,"a":0.48,"l":0.38,"r":0.44,"v":0.52,"f":0.27},
{"s":5,"t":9,"g":0.45,"a":0.46,"l":0.39,"r":0.45,"v":0.52,"f":0.28},
{"s":5,"t":12,"g":0.45,"a":0.45,"l":0.39,"r":0.45,"v":0.52,"f":0.29},
{"s":5,"t":13,"g":0.75,"a":0.48,"l":0.50,"r":0.55,"v":0.62,"f":0.38},
{"s":5,"t":16,"g":0.68,"a":0.70,"l":0.50,"r":0.55,"v":0.62,"f":0.34},
{"s":5,"t":19,"g":0.66,"a":0.66,"l":0.50,"r":0.55,"v":0.62,"f":0.36},
{"s":5,"t":22,"g":0.62,"a":0.63,"l":0.50,"r":0.55,"v":0.62,"f":0.38},
{"s":5,"t":25,"g":0.60,"a":0.61,"l":0.50,"r":0.55,"v":0.62,"f":0.36},
{"s":5,"t":26,"g":0.42,"a":0.58,"l":0.33,"r":0.36,"v":0.48,"f":0.28},
{"s":5,"t":29,"g":0.38,"a":0.39,"l":0.33,"r":0.36,"v":0.48,"f":0.27},
{"s":5,"t":32,"g":0.37,"a":0.37,"l":0.34,"r":0.37,"v":0.48,"f":0.28},
{"s":5,"t":35,"g":0.36,"a":0.36,"l":0.34,"r":0.37,"v":0.48,"f":0.30},
{"s":5,"t":38,"g":0.37,"a":0.37,"l":0.35,"r":0.38,"v":0.48,"f":0.31},
{"s":5,"t":39,"g":0.46,"a":0.38,"l":0.38,"r":0.40,"v":0.52,"f":0.34},
{"s":5,"t":42,"g":0.50,"a":0.49,"l":0.38,"r":0.40,"v":0.52,"f":0.33},
{"s":5,"t":45,"g":0.46,"a":0.47,"l":0.38,"r":0.40,"v":0.52,"f":0.34},
{"s":5,"t":48,"g":0.41,"a":0.42,"l":0.38,"r":0.40,"v":0.52,"f":0.35},
{"s":5,"t":51,"g":0.43,"a":0.43,"l":0.38,"r":0.40,"v":0.52,"f":0.34},
{"s":5,"t":52,"g":0.52,"a":0.45,"l":0.47,"r":0.52,"v":0.58,"f":0.40},
{"s":5,"t":55,"g":0.55,"a":0.54,"l":0.47,"r":0.52,"v":0.58,"f":0.38},
{"s":5,"t":58,"g":0.56,"a":0.56,"l":0.47,"r":0.52,"v":0.58,"f":0.39},
{"s":5,"t":61,"g":0.57,"a":0.57,"l":0.47,"r":0.52,"v":0.58,"f":0.40},
{"s":5,"t":64,"g":0.60,"a":0.59,"l":0.47,"r":0.52,"v":0.58,"f":0.41},
{"s":5,"t":65,"g":0.44,"a":0.56,"l":0.40,"r":0.45,"v":0.55,"f":0.33},
{"s":5,"t":68,"g":0.43,"a":0.43,"l":0.40,"r":0.45,"v":0.55,"f":0.34},
{"s":5,"t":71,"g":0.45,"a":0.45,"l":0.40,"r":0.45,"v":0.55,"f":0.35},
{"s":5,"t":74,"g":0.47,"a":0.46,"l":0.40,"r":0.45,"v":0.55,"f":0.36},
{"s":5,"t":77,"g":0.46,"a":0.46,"l":0.40,"r":0.45,"v":0.55,"f":0.36},
{"s":5,"t":78,"g":0.48,"a":0.47,"l":0.45,"r":0.47,"v":0.57,"f":0.40},
{"s":5,"t":81,"g":0.50,"a":0.50,"l":0.45,"r":0.47,"v":0.57,"f":0.38},
{"s":5,"t":84,"g":0.52,"a":0.51,"l":0.45,"r":0.47,"v":0.57,"f":0.39},
{"s":5,"t":87,"g":0.49,"a":0.50,"l":0.45,"r":0.47,"v":0.57,"f":0.40},
{"s":5,"t":90,"g":0.52,"a":0.51,"l":0.45,"r":0.47,"v":0.57,"f":0.41},
{"s":5,"t":91,"g":0.40,"a":0.49,"l":0.37,"r":0.40,"v":0.50,"f":0.35},
{"s":5,"t":94,"g":0.38,"a":0.38,"l":0.37,"r":0.40,"v":0.50,"f":0.30},
{"s":5,"t":97,"g":0.39,"a":0.39,"l":0.37,"r":0.40,"v":0.50,"f":0.32},
{"s":5,"t":100,"g":0.40,"a":0.40,"l":0.37,"r":0.40,"v":0.50,"f":0.34},
{"s":5,"t":103,"g":0.42,"a":0.41,"l":0.37,"r":0.40,"v":0.50,"f":0.35},
{"s":5,"t":104,"g":0.65,"a":0.45,"l":0.54,"r":0.56,"v":0.62,"f":0.43},
{"s":5,"t":107,"g":0.62,"a":0.63,"l":0.54,"r":0.56,"v":0.62,"f":0.42},
{"s":5,"t":110,"g":0.60,"a":0.61,"l":0.54,"r":0.56,"v":0.62,"f":0.44},
{"s":5,"t":113,"g":0.62,"a":0.61,"l":0.54,"r":0.56,"v":0.62,"f":0.45},
{"s":5,"t":116,"g":0.64,"a":0.63,"l":0.54,"r":0.56,"v":0.62,"f":0.44},
{"s":5,"t":117,"g":0.64,"a":0.63,"l":0.55,"r":0.57,"v":0.68,"f":0.44},
{"s":5,"t":120,"g":0.66,"a":0.65,"l":0.55,"r":0.57,"v":0.68,"f":0.43},
{"s":5,"t":123,"g":0.72,"a":0.70,"l":0.55,"r":0.57,"v":0.68,"f":0.45},
{"s":5,"t":126,"g":0.74,"a":0.72,"l":0.55,"r":0.57,"v":0.68,"f":0.46},
{"s":5,"t":129,"g":0.66,"a":0.68,"l":0.55,"r":0.57,"v":0.68,"f":0.44},
{"s":5,"t":130,"g":0.70,"a":0.67,"l":0.55,"r":0.57,"v":0.68,"f":0.45},
{"s":5,"t":133,"g":0.66,"a":0.67,"l":0.55,"r":0.57,"v":0.68,"f":0.44},
{"s":5,"t":136,"g":0.62,"a":0.63,"l":0.55,"r":0.57,"v":0.68,"f":0.42},
{"s":5,"t":139,"g":0.65,"a":0.64,"l":0.55,"r":0.57,"v":0.68,"f":0.44},
{"s":5,"t":142,"g":0.60,"a":0.61,"l":0.55,"r":0.57,"v":0.68,"f":0.45},
{"s":5,"t":143,"g":0.48,"a":0.58,"l":0.45,"r":0.48,"v":0.55,"f":0.33},
{"s":5,"t":146,"g":0.44,"a":0.45,"l":0.45,"r":0.48,"v":0.55,"f":0.30},
{"s":5,"t":149,"g":0.45,"a":0.45,"l":0.45,"r":0.48,"v":0.55,"f":0.34},
{"s":5,"t":152,"g":0.44,"a":0.44,"l":0.45,"r":0.48,"v":0.55,"f":0.36},
{"s":5,"t":155,"g":0.46,"a":0.45,"l":0.45,"r":0.48,"v":0.55,"f":0.35},
{"s":5,"t":156,"g":0.62,"a":0.48,"l":0.56,"r":0.58,"v":0.66,"f":0.44},
{"s":5,"t":159,"g":0.60,"a":0.61,"l":0.56,"r":0.58,"v":0.66,"f":0.42},
{"s":5,"t":162,"g":0.58,"a":0.59,"l":0.56,"r":0.58,"v":0.66,"f":0.44},
{"s":5,"t":165,"g":0.62,"a":0.61,"l":0.56,"r":0.58,"v":0.66,"f":0.45},
{"s":5,"t":168,"g":0.60,"a":0.60,"l":0.56,"r":0.58,"v":0.66,"f":0.44},
{"s":5,"t":169,"g":0.76,"a":0.62,"l":0.58,"r":0.60,"v":0.70,"f":0.46},
{"s":5,"t":172,"g":0.70,"a":0.72,"l":0.58,"r":0.60,"v":0.70,"f":0.44},
{"s":5,"t":175,"g":0.66,"a":0.67,"l":0.58,"r":0.60,"v":0.70,"f":0.45},
{"s":5,"t":178,"g":0.64,"a":0.65,"l":0.58,"r":0.60,"v":0.70,"f":0.47},
{"s":5,"t":181,"g":0.66,"a":0.65,"l":0.58,"r":0.60,"v":0.70,"f":0.46},
{"s":5,"t":182,"g":0.74,"a":0.68,"l":0.60,"r":0.64,"v":0.74,"f":0.48},
{"s":5,"t":185,"g":0.70,"a":0.71,"l":0.60,"r":0.64,"v":0.74,"f":0.46},
{"s":5,"t":188,"g":0.78,"a":0.76,"l":0.61,"r":0.64,"v":0.74,"f":0.48},
{"s":5,"t":191,"g":0.72,"a":0.73,"l":0.61,"r":0.64,"v":0.74,"f":0.50},
{"s":5,"t":194,"g":0.68,"a":0.69,"l":0.62,"r":0.64,"v":0.74,"f":0.52},
{"s":5,"t":195,"g":0.20,"a":0.55,"l":0.25,"r":0.28,"v":0.35,"f":0.30},
{"s":5,"t":197,"g":0.18,"a":0.19,"l":0.25,"r":0.28,"v":0.35,"f":0.28},
{"s":5,"t":199,"g":0.17,"a":0.17,"l":0.25,"r":0.28,"v":0.35,"f":0.27},

{"s":6,"t":0,"g":0.30,"a":0.31,"l":0.10,"r":0.10,"v":0.25,"f":0.28},
{"s":6,"t":3,"g":0.24,"a":0.26,"l":0.10,"r":0.10,"v":0.25,"f":0.26},
{"s":6,"t":6,"g":0.20,"a":0.21,"l":0.10,"r":0.10,"v":0.25,"f":0.25},
{"s":6,"t":9,"g":0.16,"a":0.17,"l":0.10,"r":0.10,"v":0.25,"f":0.24},
{"s":6,"t":12,"g":0.15,"a":0.15,"l":0.10,"r":0.10,"v":0.25,"f":0.24},
{"s":6,"t":13,"g":0.56,"a":0.20,"l":0.12,"r":0.13,"v":0.32,"f":0.36},
{"s":6,"t":16,"g":0.48,"a":0.50,"l":0.12,"r":0.13,"v":0.32,"f":0.34},
{"s":6,"t":19,"g":0.43,"a":0.44,"l":0.12,"r":0.13,"v":0.32,"f":0.33},
{"s":6,"t":22,"g":0.38,"a":0.39,"l":0.12,"r":0.13,"v":0.32,"f":0.32},
{"s":6,"t":25,"g":0.35,"a":0.36,"l":0.12,"r":0.13,"v":0.32,"f":0.31},
{"s":6,"t":26,"g":0.17,"a":0.32,"l":0.08,"r":0.09,"v":0.25,"f":0.25},
{"s":6,"t":29,"g":0.19,"a":0.18,"l":0.08,"r":0.09,"v":0.25,"f":0.24},
{"s":6,"t":32,"g":0.18,"a":0.18,"l":0.08,"r":0.09,"v":0.25,"f":0.24},
{"s":6,"t":35,"g":0.20,"a":0.19,"l":0.08,"r":0.09,"v":0.25,"f":0.25},
{"s":6,"t":38,"g":0.21,"a":0.21,"l":0.08,"r":0.09,"v":0.25,"f":0.26},
{"s":6,"t":39,"g":0.28,"a":0.24,"l":0.09,"r":0.10,"v":0.27,"f":0.32},
{"s":6,"t":42,"g":0.30,"a":0.29,"l":0.09,"r":0.10,"v":0.27,"f":0.33},
{"s":6,"t":45,"g":0.29,"a":0.29,"l":0.09,"r":0.10,"v":0.27,"f":0.34},
{"s":6,"t":48,"g":0.31,"a":0.30,"l":0.09,"r":0.10,"v":0.27,"f":0.35},
{"s":6,"t":51,"g":0.32,"a":0.31,"l":0.09,"r":0.10,"v":0.27,"f":0.35},
{"s":6,"t":52,"g":0.68,"a":0.35,"l":0.14,"r":0.16,"v":0.40,"f":0.48},
{"s":6,"t":55,"g":0.66,"a":0.67,"l":0.14,"r":0.16,"v":0.40,"f":0.50},
{"s":6,"t":58,"g":0.60,"a":0.62,"l":0.14,"r":0.16,"v":0.40,"f":0.48},
{"s":6,"t":61,"g":0.52,"a":0.54,"l":0.14,"r":0.16,"v":0.40,"f":0.46},
{"s":6,"t":64,"g":0.48,"a":0.49,"l":0.14,"r":0.16,"v":0.40,"f":0.45},
{"s":6,"t":65,"g":0.45,"a":0.48,"l":0.13,"r":0.14,"v":0.38,"f":0.44},
{"s":6,"t":68,"g":0.50,"a":0.47,"l":0.13,"r":0.14,"v":0.38,"f":0.46},
{"s":6,"t":71,"g":0.42,"a":0.44,"l":0.13,"r":0.14,"v":0.38,"f":0.47},
{"s":6,"t":74,"g":0.38,"a":0.39,"l":0.13,"r":0.14,"v":0.38,"f":0.46},
{"s":6,"t":77,"g":0.36,"a":0.37,"l":0.13,"r":0.14,"v":0.38,"f":0.45},
{"s":6,"t":78,"g":0.57,"a":0.38,"l":0.13,"r":0.15,"v":0.40,"f":0.48},
{"s":6,"t":81,"g":0.50,"a":0.52,"l":0.13,"r":0.15,"v":0.40,"f":0.47},
{"s":6,"t":84,"g":0.45,"a":0.46,"l":0.13,"r":0.15,"v":0.40,"f":0.46},
{"s":6,"t":87,"g":0.42,"a":0.43,"l":0.13,"r":0.15,"v":0.40,"f":0.45},
{"s":6,"t":90,"g":0.40,"a":0.41,"l":0.13,"r":0.15,"v":0.40,"f":0.44},
{"s":6,"t":91,"g":0.42,"a":0.41,"l":0.10,"r":0.11,"v":0.33,"f":0.38},
{"s":6,"t":94,"g":0.38,"a":0.39,"l":0.10,"r":0.11,"v":0.33,"f":0.36},
{"s":6,"t":97,"g":0.36,"a":0.37,"l":0.10,"r":0.11,"v":0.33,"f":0.35},
{"s":6,"t":100,"g":0.35,"a":0.35,"l":0.10,"r":0.11,"v":0.33,"f":0.34},
{"s":6,"t":103,"g":0.30,"a":0.31,"l":0.10,"r":0.11,"v":0.33,"f":0.33},
{"s":6,"t":104,"g":0.52,"a":0.33,"l":0.13,"r":0.15,"v":0.44,"f":0.44},
{"s":6,"t":107,"g":0.45,"a":0.47,"l":0.13,"r":0.15,"v":0.44,"f":0.47},
{"s":6,"t":110,"g":0.40,"a":0.41,"l":0.13,"r":0.15,"v":0.44,"f":0.48},
{"s":6,"t":113,"g":0.36,"a":0.37,"l":0.13,"r":0.15,"v":0.44,"f":0.46},
{"s":6,"t":116,"g":0.32,"a":0.33,"l":0.13,"r":0.15,"v":0.44,"f":0.45},
{"s":6,"t":117,"g":0.50,"a":0.34,"l":0.14,"r":0.16,"v":0.46,"f":0.48},
{"s":6,"t":120,"g":0.43,"a":0.45,"l":0.14,"r":0.16,"v":0.46,"f":0.47},
{"s":6,"t":123,"g":0.38,"a":0.39,"l":0.14,"r":0.16,"v":0.46,"f":0.46},
{"s":6,"t":126,"g":0.34,"a":0.35,"l":0.14,"r":0.16,"v":0.46,"f":0.45},
{"s":6,"t":129,"g":0.30,"a":0.31,"l":0.14,"r":0.16,"v":0.46,"f":0.44},
{"s":6,"t":130,"g":0.48,"a":0.32,"l":0.14,"r":0.16,"v":0.45,"f":0.46},
{"s":6,"t":133,"g":0.40,"a":0.42,"l":0.14,"r":0.16,"v":0.45,"f":0.45},
{"s":6,"t":136,"g":0.35,"a":0.36,"l":0.14,"r":0.16,"v":0.45,"f":0.44},
{"s":6,"t":139,"g":0.32,"a":0.33,"l":0.14,"r":0.16,"v":0.45,"f":0.43},
{"s":6,"t":142,"g":0.28,"a":0.29,"l":0.14,"r":0.16,"v":0.45,"f":0.42},
{"s":6,"t":143,"g":0.45,"a":0.30,"l":0.12,"r":0.14,"v":0.40,"f":0.40},
{"s":6,"t":146,"g":0.38,"a":0.40,"l":0.12,"r":0.14,"v":0.40,"f":0.39},
{"s":6,"t":149,"g":0.33,"a":0.34,"l":0.12,"r":0.14,"v":0.40,"f":0.38},
{"s":6,"t":152,"g":0.28,"a":0.29,"l":0.12,"r":0.14,"v":0.40,"f":0.37},
{"s":6,"t":155,"g":0.24,"a":0.25,"l":0.12,"r":0.14,"v":0.40,"f":0.36},
{"s":6,"t":156,"g":0.48,"a":0.26,"l":0.14,"r":0.17,"v":0.46,"f":0.44},
{"s":6,"t":159,"g":0.42,"a":0.44,"l":0.14,"r":0.17,"v":0.46,"f":0.43},
{"s":6,"t":162,"g":0.36,"a":0.37,"l":0.14,"r":0.17,"v":0.46,"f":0.42},
{"s":6,"t":165,"g":0.32,"a":0.33,"l":0.14,"r":0.17,"v":0.46,"f":0.41},
{"s":6,"t":168,"g":0.28,"a":0.29,"l":0.14,"r":0.17,"v":0.46,"f":0.40},
{"s":6,"t":169,"g":0.52,"a":0.30,"l":0.15,"r":0.18,"v":0.50,"f":0.46},
{"s":6,"t":172,"g":0.45,"a":0.47,"l":0.15,"r":0.18,"v":0.50,"f":0.45},
{"s":6,"t":175,"g":0.40,"a":0.41,"l":0.15,"r":0.18,"v":0.50,"f":0.44},
{"s":6,"t":178,"g":0.34,"a":0.35,"l":0.15,"r":0.18,"v":0.50,"f":0.43},
{"s":6,"t":181,"g":0.30,"a":0.31,"l":0.15,"r":0.18,"v":0.50,"f":0.42},
{"s":6,"t":182,"g":0.62,"a":0.33,"l":0.16,"r":0.19,"v":0.50,"f":0.48},
{"s":6,"t":185,"g":0.52,"a":0.55,"l":0.16,"r":0.19,"v":0.50,"f":0.46},
{"s":6,"t":188,"g":0.45,"a":0.47,"l":0.16,"r":0.19,"v":0.50,"f":0.45},
{"s":6,"t":191,"g":0.40,"a":0.41,"l":0.16,"r":0.19,"v":0.50,"f":0.44},
{"s":6,"t":194,"g":0.37,"a":0.38,"l":0.16,"r":0.19,"v":0.50,"f":0.42},
{"s":6,"t":195,"g":0.34,"a":0.36,"l":0.06,"r":0.08,"v":0.24,"f":0.26},
{"s":6,"t":197,"g":0.32,"a":0.33,"l":0.06,"r":0.08,"v":0.24,"f":0.25},
{"s":6,"t":199,"g":0.30,"a":0.31,"l":0.06,"r":0.08,"v":0.24,"f":0.24}
]},
"transform": [{"fold": ["l", "r", "v", "f", "g", "a"], "as": ["k", "y"]}],
"spacing": 13,
"vconcat": [
{"width": 1095, "height": 184, "title": "Sensor 1 — Traffic Volume Prediction",
 "transform": [{"filter": "datum.s == 1"}],
 "encoding": {
  "x": {"field": "t", "type": "quantitative", "scale": {"domain": [-10, 205], "nice": false, "zero": false}, "axis": {"values": [0, 25, 50, 75, 100, 125, 150, 175, 200], "title": "Time Step (15-min intervals)"}},
  "y": {"field": "y", "type": "quantitative", "scale": {"domain": [0.06, 0.84], "nice": false, "zero": false}, "axis": {"values": [0.1, 0.2, 0.3, 0.4, 0.5, 0.6, 0.7, 0.8], "format": ".1f", "labelOverlap": false, "title": "Normalized Volume"}},
  "color": {"field": "k", "type": "nominal", "scale": {"domain": ["g", "l", "r", "v", "f", "a", "b"], "range": ["#1c1c1c", "#5a8fcc", "#4e9e7e", "#e8a0ae", "#f2a072", "#7a3db0", "#ddd0ee"]},
   "legend": {"orient": "top-right", "direction": "horizontal", "columns": 7, "title": null, "labelFontSize": 5, "labelColor": "#444444", "symbolType": "stroke", "symbolSize": 400, "labelOffset": 6, "columnPadding": 20, "padding": 3, "offset": 2, "fillColor": "rgba(255,255,255,0.85)", "strokeColor": "#dddddd", "cornerRadius": 2, "labelLimit": 200,
    "labelExpr": "datum.value == 'g' ? 'Ground Truth' : datum.value == 'l' ? 'LSTM' : datum.value == 'r' ? 'GRU' : datum.value == 'v' ? 'VanillaSTGCN' : datum.value == 'f' ? 'Transformer' : datum.value == 'a' ? 'ASTGCN-MHA' : 'ASTGCN-MHA Error Band'",
    "encode": {"symbols": {"update": {"strokeDash": {"signal": "datum.value == 'l' ? [3,2] : datum.value == 'r' ? [6,3] : [1,0]"}, "strokeWidth": {"signal": "datum.value == 'g' ? 2 : datum.value == 'a' ? 1.8 : datum.value == 'b' ? 4 : 1.2"}}}}}}
 },
 "layer": [
  {"transform": [{"filter": "datum.k == 'a'"}], "mark": {"type": "line", "strokeWidth": 5, "strokeCap": "round", "strokeJoin": "round"}, "encoding": {"color": {"datum": "b"}}},
  {"mark": {"type": "line", "strokeJoin": "round"},
   "encoding": {
    "strokeDash": {"field": "k", "type": "nominal", "scale": {"domain": ["g", "l", "r", "v", "f", "a"], "range": [[1, 0], [3, 2], [6, 3], [1, 0], [1, 0], [1, 0]]}, "legend": null},
    "strokeWidth": {"field": "k", "type": "nominal", "scale": {"domain": ["g", "l", "r", "v", "f", "a"], "range": [2, 0.9, 0.9, 0.9, 0.9, 1.5]}, "legend": null}
   }}
 ]},
{"width": 1095, "height": 184, "title": "Sensor 6 — Traffic Volume Prediction",
 "transform": [{"filter": "datum.s == 2"}],
 "encoding": {
  "x": {"field": "t", "type": "quantitative", "scale": {"domain": [-10, 205], "nice": false, "zero": false}, "axis": {"values": [0, 25, 50, 75, 100, 125, 150, 175, 200], "title": "Time Step (15-min intervals)"}},
  "y": {"field": "y", "type": "quantitative", "scale": {"domain": [0.054, 0.758], "nice": false, "zero": false}, "axis": {"values": [0.1, 0.2, 0.3, 0.4, 0.5, 0.6, 0.7], "format": ".1f", "labelOverlap": false, "title": "Normalized Volume"}},
  "color": {"field": "k", "type": "nominal", "scale": {"domain": ["g", "l", "r", "v", "f", "a", "b"], "range": ["#1c1c1c", "#5a8fcc", "#4e9e7e", "#e8a0ae", "#f2a072", "#7a3db0", "#ddd0ee"]},
   "legend": {"orient": "top-right", "direction": "horizontal", "columns": 7, "title": null, "labelFontSize": 5, "labelColor": "#444444", "symbolType": "stroke", "symbolSize": 400, "labelOffset": 6, "columnPadding": 20, "padding": 3, "offset": 2, "fillColor": "rgba(255,255,255,0.85)", "strokeColor": "#dddddd", "cornerRadius": 2, "labelLimit": 200,
    "labelExpr": "datum.value == 'g' ? 'Ground Truth' : datum.value == 'l' ? 'LSTM' : datum.value == 'r' ? 'GRU' : datum.value == 'v' ? 'VanillaSTGCN' : datum.value == 'f' ? 'Transformer' : datum.value == 'a' ? 'ASTGCN-MHA' : 'ASTGCN-MHA Error Band'",
    "encode": {"symbols": {"update": {"strokeDash": {"signal": "datum.value == 'l' ? [3,2] : datum.value == 'r' ? [6,3] : [1,0]"}, "strokeWidth": {"signal": "datum.value == 'g' ? 2 : datum.value == 'a' ? 1.8 : datum.value == 'b' ? 4 : 1.2"}}}}}}
 },
 "layer": [
  {"transform": [{"filter": "datum.k == 'a'"}], "mark": {"type": "line", "strokeWidth": 5, "strokeCap": "round", "strokeJoin": "round"}, "encoding": {"color": {"datum": "b"}}},
  {"mark": {"type": "line", "strokeJoin": "round"},
   "encoding": {
    "strokeDash": {"field": "k", "type": "nominal", "scale": {"domain": ["g", "l", "r", "v", "f", "a"], "range": [[1, 0], [3, 2], [6, 3], [1, 0], [1, 0], [1, 0]]}, "legend": null},
    "strokeWidth": {"field": "k", "type": "nominal", "scale": {"domain": ["g", "l", "r", "v", "f", "a"], "range": [2, 0.9, 0.9, 0.9, 0.9, 1.5]}, "legend": null}
   }}
 ]},
{"width": 1095, "height": 184, "title": "Sensor 11 — Traffic Volume Prediction",
 "transform": [{"filter": "datum.s == 3"}],
 "encoding": {
  "x": {"field": "t", "type": "quantitative", "scale": {"domain": [-10, 205], "nice": false, "zero": false}, "axis": {"values": [0, 25, 50, 75, 100, 125, 150, 175, 200], "title": "Time Step (15-min intervals)"}},
  "y": {"field": "y", "type": "quantitative", "scale": {"domain": [0.05, 0.645], "nice": false, "zero": false}, "axis": {"values": [0.1, 0.2, 0.3, 0.4, 0.5, 0.6], "format": ".1f", "labelOverlap": false, "title": "Normalized Volume"}},
  "color": {"field": "k", "type": "nominal", "scale": {"domain": ["g", "l", "r", "v", "f", "a", "b"], "range": ["#1c1c1c", "#5a8fcc", "#4e9e7e", "#e8a0ae", "#f2a072", "#7a3db0", "#ddd0ee"]},
   "legend": {"orient": "top-right", "direction": "horizontal", "columns": 7, "title": null, "labelFontSize": 5, "labelColor": "#444444", "symbolType": "stroke", "symbolSize": 400, "labelOffset": 6, "columnPadding": 20, "padding": 3, "offset": 2, "fillColor": "rgba(255,255,255,0.85)", "strokeColor": "#dddddd", "cornerRadius": 2, "labelLimit": 200,
    "labelExpr": "datum.value == 'g' ? 'Ground Truth' : datum.value == 'l' ? 'LSTM' : datum.value == 'r' ? 'GRU' : datum.value == 'v' ? 'VanillaSTGCN' : datum.value == 'f' ? 'Transformer' : datum.value == 'a' ? 'ASTGCN-MHA' : 'ASTGCN-MHA Error Band'",
    "encode": {"symbols": {"update": {"strokeDash": {"signal": "datum.value == 'l' ? [3,2] : datum.value == 'r' ? [6,3] : [1,0]"}, "strokeWidth": {"signal": "datum.value == 'g' ? 2 : datum.value == 'a' ? 1.8 : datum.value == 'b' ? 4 : 1.2"}}}}}}
 },
 "layer": [
  {"transform": [{"filter": "datum.k == 'a'"}], "mark": {"type": "line", "strokeWidth": 5, "strokeCap": "round", "strokeJoin": "round"}, "encoding": {"color": {"datum": "b"}}},
  {"mark": {"type": "line", "strokeJoin": "round"},
   "encoding": {
    "strokeDash": {"field": "k", "type": "nominal", "scale": {"domain": ["g", "l", "r", "v", "f", "a"], "range": [[1, 0], [3, 2], [6, 3], [1, 0], [1, 0], [1, 0]]}, "legend": null},
    "strokeWidth": {"field": "k", "type": "nominal", "scale": {"domain": ["g", "l", "r", "v", "f", "a"], "range": [2, 0.9, 0.9, 0.9, 0.9, 1.5]}, "legend": null}
   }}
 ]},
{"width": 1095, "height": 184, "title": "Sensor 18 — Traffic Volume Prediction",
 "transform": [{"filter": "datum.s == 4"}],
 "encoding": {
  "x": {"field": "t", "type": "quantitative", "scale": {"domain": [-10, 205], "nice": false, "zero": false}, "axis": {"values": [0, 25, 50, 75, 100, 125, 150, 175, 200], "title": "Time Step (15-min intervals)"}},
  "y": {"field": "y", "type": "quantitative", "scale": {"domain": [0.067, 0.737], "nice": false, "zero": false}, "axis": {"values": [0.1, 0.2, 0.3, 0.4, 0.5, 0.6, 0.7], "format": ".1f", "labelOverlap": false, "title": "Normalized Volume"}},
  "color": {"field": "k", "type": "nominal", "scale": {"domain": ["g", "l", "r", "v", "f", "a", "b"], "range": ["#1c1c1c", "#5a8fcc", "#4e9e7e", "#e8a0ae", "#f2a072", "#7a3db0", "#ddd0ee"]},
   "legend": {"orient": "top-right", "direction": "horizontal", "columns": 7, "title": null, "labelFontSize": 5, "labelColor": "#444444", "symbolType": "stroke", "symbolSize": 400, "labelOffset": 6, "columnPadding": 20, "padding": 3, "offset": 2, "fillColor": "rgba(255,255,255,0.85)", "strokeColor": "#dddddd", "cornerRadius": 2, "labelLimit": 200,
    "labelExpr": "datum.value == 'g' ? 'Ground Truth' : datum.value == 'l' ? 'LSTM' : datum.value == 'r' ? 'GRU' : datum.value == 'v' ? 'VanillaSTGCN' : datum.value == 'f' ? 'Transformer' : datum.value == 'a' ? 'ASTGCN-MHA' : 'ASTGCN-MHA Error Band'",
    "encode": {"symbols": {"update": {"strokeDash": {"signal": "datum.value == 'l' ? [3,2] : datum.value == 'r' ? [6,3] : [1,0]"}, "strokeWidth": {"signal": "datum.value == 'g' ? 2 : datum.value == 'a' ? 1.8 : datum.value == 'b' ? 4 : 1.2"}}}}}}
 },
 "layer": [
  {"transform": [{"filter": "datum.k == 'a'"}], "mark": {"type": "line", "strokeWidth": 5, "strokeCap": "round", "strokeJoin": "round"}, "encoding": {"color": {"datum": "b"}}},
  {"mark": {"type": "line", "strokeJoin": "round"},
   "encoding": {
    "strokeDash": {"field": "k", "type": "nominal", "scale": {"domain": ["g", "l", "r", "v", "f", "a"], "range": [[1, 0], [3, 2], [6, 3], [1, 0], [1, 0], [1, 0]]}, "legend": null},
    "strokeWidth": {"field": "k", "type": "nominal", "scale": {"domain": ["g", "l", "r", "v", "f", "a"], "range": [2, 0.9, 0.9, 0.9, 0.9, 1.5]}, "legend": null}
   }}
 ]},
{"width": 1095, "height": 184, "title": "Sensor 26 — Traffic Volume Prediction",
 "transform": [{"filter": "datum.s == 5"}],
 "encoding": {
  "x": {"field": "t", "type": "quantitative", "scale": {"domain": [-10, 205], "nice": false, "zero": false}, "axis": {"values": [0, 25, 50, 75, 100, 125, 150, 175, 200], "title": "Time Step (15-min intervals)"}},
  "y": {"field": "y", "type": "quantitative", "scale": {"domain": [0.13, 0.84], "nice": false, "zero": false}, "axis": {"values": [0.2, 0.3, 0.4, 0.5, 0.6, 0.7, 0.8], "format": ".1f", "labelOverlap": false, "title": "Normalized Volume"}},
  "color": {"field": "k", "type": "nominal", "scale": {"domain": ["g", "l", "r", "v", "f", "a", "b"], "range": ["#1c1c1c", "#5a8fcc", "#4e9e7e", "#e8a0ae", "#f2a072", "#7a3db0", "#ddd0ee"]},
   "legend": {"orient": "top-right", "direction": "horizontal", "columns": 7, "title": null, "labelFontSize": 5, "labelColor": "#444444", "symbolType": "stroke", "symbolSize": 400, "labelOffset": 6, "columnPadding": 20, "padding": 3, "offset": 2, "fillColor": "rgba(255,255,255,0.85)", "strokeColor": "#dddddd", "cornerRadius": 2, "labelLimit": 200,
    "labelExpr": "datum.value == 'g' ? 'Ground Truth' : datum.value == 'l' ? 'LSTM' : datum.value == 'r' ? 'GRU' : datum.value == 'v' ? 'VanillaSTGCN' : datum.value == 'f' ? 'Transformer' : datum.value == 'a' ? 'ASTGCN-MHA' : 'ASTGCN-MHA Error Band'",
    "encode": {"symbols": {"update": {"strokeDash": {"signal": "datum.value == 'l' ? [3,2] : datum.value == 'r' ? [6,3] : [1,0]"}, "strokeWidth": {"signal": "datum.value == 'g' ? 2 : datum.value == 'a' ? 1.8 : datum.value == 'b' ? 4 : 1.2"}}}}}}
 },
 "layer": [
  {"transform": [{"filter": "datum.k == 'a'"}], "mark": {"type": "line", "strokeWidth": 5, "strokeCap": "round", "strokeJoin": "round"}, "encoding": {"color": {"datum": "b"}}},
  {"mark": {"type": "line", "strokeJoin": "round"},
   "encoding": {
    "strokeDash": {"field": "k", "type": "nominal", "scale": {"domain": ["g", "l", "r", "v", "f", "a"], "range": [[1, 0], [3, 2], [6, 3], [1, 0], [1, 0], [1, 0]]}, "legend": null},
    "strokeWidth": {"field": "k", "type": "nominal", "scale": {"domain": ["g", "l", "r", "v", "f", "a"], "range": [2, 0.9, 0.9, 0.9, 0.9, 1.5]}, "legend": null}
   }}
 ]},
{"width": 1095, "height": 184, "title": "Sensor 36 — Traffic Volume Prediction",
 "transform": [{"filter": "datum.s == 6"}],
 "encoding": {
  "x": {"field": "t", "type": "quantitative", "scale": {"domain": [-10, 205], "nice": false, "zero": false}, "axis": {"values": [0, 25, 50, 75, 100, 125, 150, 175, 200], "title": "Time Step (15-min intervals)"}},
  "y": {"field": "y", "type": "quantitative", "scale": {"domain": [0.027, 0.69], "nice": false, "zero": false}, "axis": {"values": [0.1, 0.2, 0.3, 0.4, 0.5, 0.6], "format": ".1f", "labelOverlap": false, "title": "Normalized Volume"}},
  "color": {"field": "k", "type": "nominal", "scale": {"domain": ["g", "l", "r", "v", "f", "a", "b"], "range": ["#1c1c1c", "#5a8fcc", "#4e9e7e", "#e8a0ae", "#f2a072", "#7a3db0", "#ddd0ee"]},
   "legend": {"orient": "top-right", "direction": "horizontal", "columns": 7, "title": null, "labelFontSize": 5, "labelColor": "#444444", "symbolType": "stroke", "symbolSize": 400, "labelOffset": 6, "columnPadding": 20, "padding": 3, "offset": 2, "fillColor": "rgba(255,255,255,0.85)", "strokeColor": "#dddddd", "cornerRadius": 2, "labelLimit": 200,
    "labelExpr": "datum.value == 'g' ? 'Ground Truth' : datum.value == 'l' ? 'LSTM' : datum.value == 'r' ? 'GRU' : datum.value == 'v' ? 'VanillaSTGCN' : datum.value == 'f' ? 'Transformer' : datum.value == 'a' ? 'ASTGCN-MHA' : 'ASTGCN-MHA Error Band'",
    "encode": {"symbols": {"update": {"strokeDash": {"signal": "datum.value == 'l' ? [3,2] : datum.value == 'r' ? [6,3] : [1,0]"}, "strokeWidth": {"signal": "datum.value == 'g' ? 2 : datum.value == 'a' ? 1.8 : datum.value == 'b' ? 4 : 1.2"}}}}}}
 },
 "layer": [
  {"transform": [{"filter": "datum.k == 'a'"}], "mark": {"type": "line", "strokeWidth": 5, "strokeCap": "round", "strokeJoin": "round"}, "encoding": {"color": {"datum": "b"}}},
  {"mark": {"type": "line", "strokeJoin": "round"},
   "encoding": {
    "strokeDash": {"field": "k", "type": "nominal", "scale": {"domain": ["g", "l", "r", "v", "f", "a"], "range": [[1, 0], [3, 2], [6, 3], [1, 0], [1, 0], [1, 0]]}, "legend": null},
    "strokeWidth": {"field": "k", "type": "nominal", "scale": {"domain": ["g", "l", "r", "v", "f", "a"], "range": [2, 0.9, 0.9, 0.9, 0.9, 1.5]}, "legend": null}
   }}
 ]}
],
"resolve": {"scale": {"y": "independent"}, "legend": {"color": "independent"}},
"config": {
 "font": "DejaVu Sans",
 "view": {"fill": "#f5f7fa", "stroke": null},
 "title": {"fontSize": 7, "fontWeight": "bold", "color": "#222222", "offset": 4, "anchor": "middle"},
 "axis": {"labelFontSize": 5, "titleFontSize": 5.5, "titleFontWeight": "normal", "labelColor": "#555555", "titleColor": "#555555", "domainColor": "#bbbbbb", "tickColor": "#bbbbbb", "tickSize": 3, "grid": false, "labelPadding": 2, "titlePadding": 3},
 "axisY": {"titlePadding": 6},
 "line": {"opacity": 0.95}
}
}
